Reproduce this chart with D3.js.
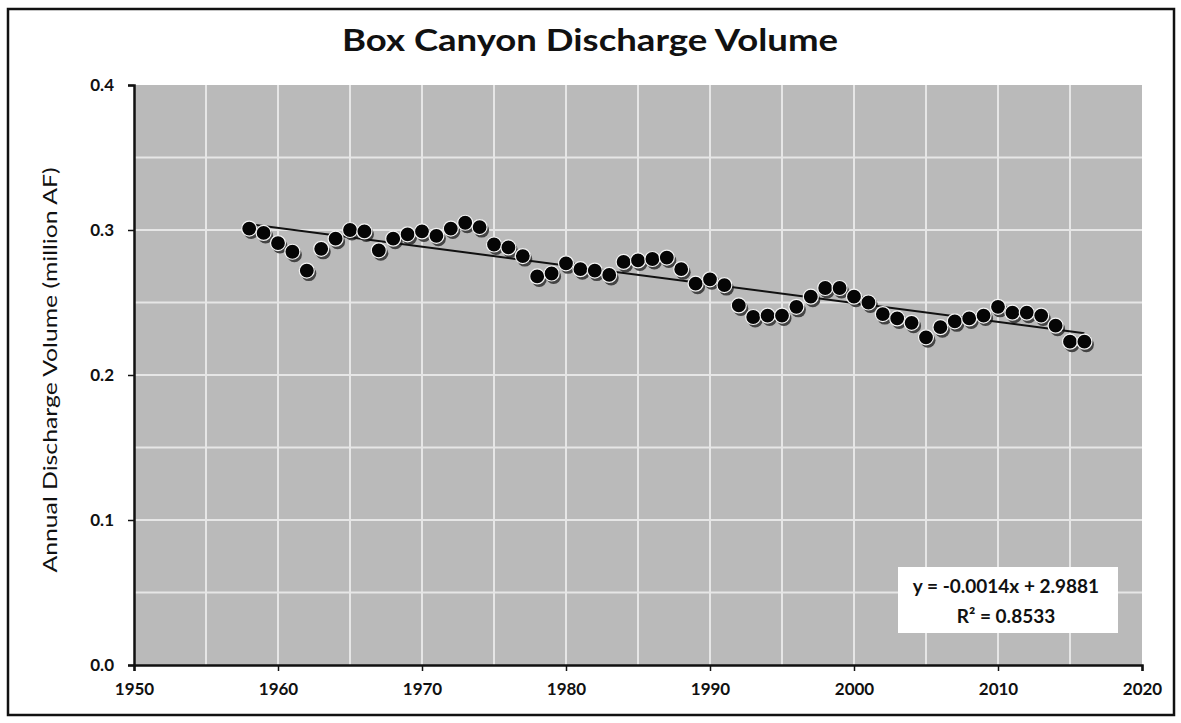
<!DOCTYPE html>
<html>
<head>
<meta charset="utf-8">
<script src="https://cdn.jsdelivr.net/npm/d3@7"></script>
<style>
  body { margin: 0; background: #fff; }
  text { font-family: Lato, "Open Sans", sans-serif; }
</style>
</head>
<body>
<div id="chart"></div>
<script>
// one value per year
var years = d3.range(1958, 2017);
var discharge = [
    0.301, 0.298, 0.291, 0.285, 0.272, 0.287, 0.294, 0.300, 0.299, 0.286,
    0.294, 0.297, 0.299, 0.296, 0.301, 0.305, 0.302, 0.290, 0.288, 0.282,
    0.268, 0.270, 0.277, 0.273, 0.272, 0.269, 0.278, 0.279, 0.280, 0.281,
    0.273, 0.263, 0.266, 0.262, 0.248, 0.240, 0.241, 0.241, 0.247, 0.254,
    0.260, 0.260, 0.254, 0.250, 0.242, 0.239, 0.236, 0.226, 0.233, 0.237,
    0.239, 0.241, 0.247, 0.243, 0.243, 0.241, 0.234, 0.223, 0.223
];
var xTicks = [1950, 1960, 1970, 1980, 1990, 2000, 2010, 2020];
var yTicks = [0.0, 0.1, 0.2, 0.3, 0.4];
var xGrid = d3.range(1955, 2020, 5);
var yGrid = [0.05, 0.1, 0.15, 0.2, 0.25, 0.3, 0.35];
var equationLines = ['y = -0.0014x + 2.9881', 'R\u00b2 = 0.8533'];

var W = 1181, H = 723;
var margin = {top: 85, right: 39, bottom: 58, left: 134};
var width = W - margin.left - margin.right;
var height = H - margin.top - margin.bottom;

var svg = d3.select('#chart').append('svg')
    .attr('width', W).attr('height', H);

// outer frame
svg.append('rect')
    .attr('x', 8).attr('y', 9)
    .attr('width', 1166).attr('height', 706)
    .attr('fill', '#fff')
    .attr('stroke', '#111')
    .attr('stroke-width', 2.5);

svg.append('text')
    .attr('x', 590).attr('y', 51)
    .attr('text-anchor', 'middle')
    .attr('font-size', 31)
    .attr('font-weight', 700)
    .attr('fill', '#111')
    .attr('textLength', 496)
    .attr('lengthAdjust', 'spacingAndGlyphs')
    .text('Box Canyon Discharge Volume');

var g = svg.append('g')
    .attr('transform', 'translate(' + margin.left + ',' + margin.top + ')');

var x = d3.scaleLinear().domain([1950, 2020]).range([0, width]);
var y = d3.scaleLinear().domain([0, 0.4]).range([height, 0]);

g.append('rect')
    .attr('width', width).attr('height', height)
    .attr('fill', '#bababa');

g.append('g').selectAll('line').data(xGrid).join('line')
    .attr('x1', d => x(d)).attr('x2', d => x(d))
    .attr('y1', 0).attr('y2', height)
    .attr('stroke', '#e6e6e6').attr('stroke-width', 2);

g.append('g').selectAll('line').data(yGrid).join('line')
    .attr('x1', 0).attr('x2', width)
    .attr('y1', d => y(d)).attr('y2', d => y(d))
    .attr('stroke', '#e6e6e6').attr('stroke-width', 2);

// axes
var xAxis = g.append('g')
    .attr('transform', 'translate(0,' + height + ')')
    .call(d3.axisBottom(x).tickValues(xTicks).tickFormat(d3.format('d')).tickSize(6).tickPadding(12));
var yAxis = g.append('g')
    .call(d3.axisLeft(y).tickValues(yTicks).tickFormat(d3.format('.1f')).tickSize(6).tickPadding(14));

[xAxis, yAxis].forEach(function(a) {
    a.select('.domain').attr('stroke', '#111').attr('stroke-width', 2.5);
    a.selectAll('.tick line').attr('stroke', '#111').attr('stroke-width', 1.5);
    a.selectAll('.tick text')
        .attr('font-size', 17)
        .attr('font-weight', 700)
        .attr('font-family', 'Lato, sans-serif')
        .attr('fill', '#111');
});

svg.append('text')
    .attr('transform', 'translate(57,' + (margin.top + height / 2 - 5) + ') rotate(-90)')
    .attr('text-anchor', 'middle')
    .attr('font-size', 20)
    .attr('fill', '#111')
    .attr('textLength', 405)
    .attr('lengthAdjust', 'spacingAndGlyphs')
    .text('Annual Discharge Volume (million AF)');

// least squares trend through the points
var pts = years.map((yr, i) => ({year: yr, v: discharge[i]}));
var mx = d3.mean(pts, d => d.year), my = d3.mean(pts, d => d.v);
var slope = d3.sum(pts, d => (d.year - mx) * (d.v - my)) / d3.sum(pts, d => (d.year - mx) * (d.year - mx));
var icpt = my - slope * mx;
var ends = d3.extent(years);

var line = d3.line()
    .x(d => x(d))
    .y(d => y(icpt + slope * d));

// markers: shadow, then the dot with a light rim
g.append('g').selectAll('circle').data(pts).join('circle')
    .attr('cx', d => x(d.year) + 2)
    .attr('cy', d => y(d.v) + 3)
    .attr('r', 7.5)
    .attr('fill', '#444');

g.append('path')
    .datum(ends)
    .attr('d', line)
    .attr('fill', 'none')
    .attr('stroke', '#111')
    .attr('stroke-width', 2);

g.append('g').selectAll('circle').data(pts).join('circle')
    .attr('cx', d => x(d.year))
    .attr('cy', d => y(d.v))
    .attr('r', 7.5)
    .attr('fill', '#050505')
    .attr('stroke', '#f4f4f4')
    .attr('stroke-width', 1.2);

// trendline label
var box = g.append('g').attr('transform', 'translate(' + (898 - margin.left) + ',' + (567 - margin.top) + ')');
box.append('rect')
    .attr('width', 220).attr('height', 66)
    .attr('fill', '#fff');
box.selectAll('text').data(equationLines).join('text')
    .attr('x', 108)
    .attr('y', (d, i) => 26 + i * 30)
    .attr('text-anchor', 'middle')
    .attr('font-size', 19)
    .attr('font-weight', 700)
    .attr('fill', '#111')
    .text(d => d);
</script>
</body>
</html>
